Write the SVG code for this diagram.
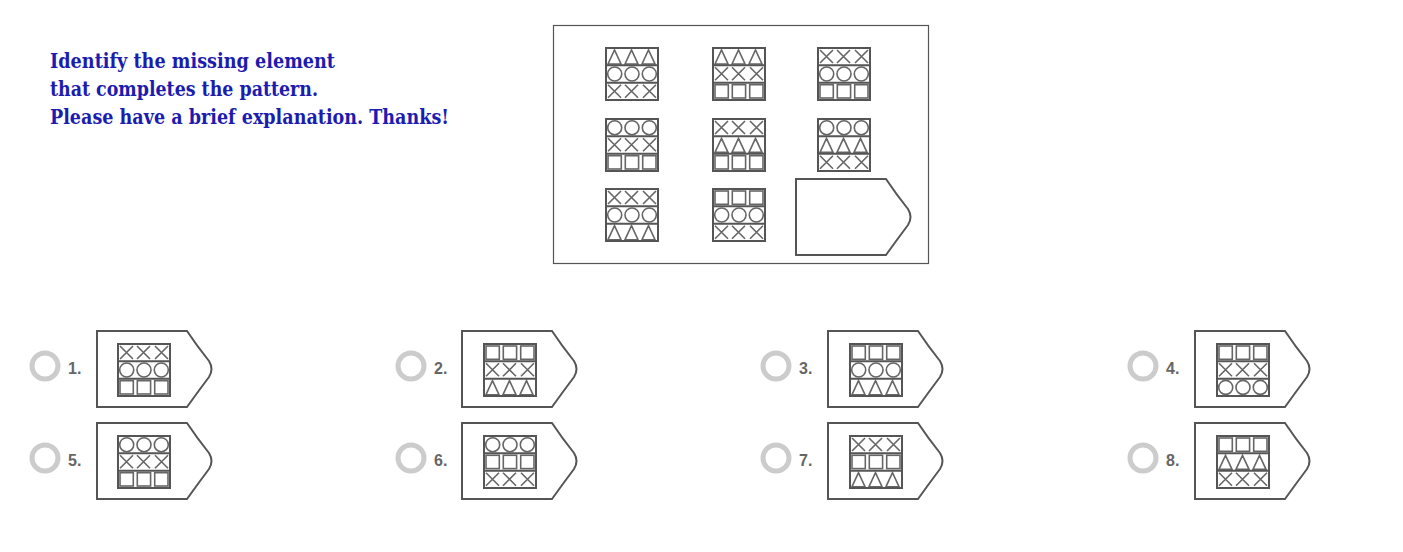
<svg xmlns="http://www.w3.org/2000/svg" xmlns:xlink="http://www.w3.org/1999/xlink" width="1403" height="552" viewBox="0 0 1403 552">
<style>
.s{fill:none;stroke:#666;stroke-width:1.6}
.b{fill:none;stroke:#555;stroke-width:2}
.tag{fill:#fff;stroke:#555;stroke-width:2}
.rad{fill:none;stroke:#ccc;stroke-width:5}
.num{font-family:"Liberation Sans",Arial,sans-serif;font-weight:bold;font-size:16px;fill:#666}
.q{font-family:"DejaVu Serif","Liberation Serif",serif;font-weight:bold;font-size:20px;fill:#1c1cb0}
</style>
<defs>
<g id="T" class="s"><path d="M2,16 L8.5,2 L15,16 Z M19,16 L25.5,2 L32,16 Z M36,16 L42.5,2 L49,16 Z"/></g>
<g id="O" class="s"><circle cx="8.7" cy="8.7" r="7"/><circle cx="26" cy="8.7" r="7"/><circle cx="43.3" cy="8.7" r="7"/></g>
<g id="X" class="s"><path d="M2,2 L15,15 M15,2 L2,15 M19,2 L32,15 M32,2 L19,15 M37,2 L50,15 M50,2 L37,15"/></g>
<g id="S" class="s"><rect x="2" y="2" width="13.3" height="13.3"/><rect x="19.3" y="2" width="13.3" height="13.3"/><rect x="36.7" y="2" width="13.3" height="13.3"/></g>
<rect id="F" class="b" x="0" y="0" width="52" height="52"/>
<path id="R" class="b" d="M0,17.3 H52 M0,34.7 H52"/>
<path id="tg" class="tag" d="M0,0 H90 Q100,15 112,30 Q117,38 112,46 Q100,62 90,76 H0 Z"/>
</defs>
<text class="q" x="50" y="68" textLength="285" lengthAdjust="spacingAndGlyphs">Identify the missing element</text>
<text class="q" x="50" y="96" textLength="268" lengthAdjust="spacingAndGlyphs">that completes the pattern.</text>
<text class="q" x="50" y="124" textLength="399" lengthAdjust="spacingAndGlyphs">Please have a brief explanation. Thanks!</text>
<g id="matrix">
<rect x="553.5" y="25.5" width="375" height="238" fill="#fff" stroke="#555" stroke-width="1.2"/>
<g transform="translate(606,48)"><use href="#T"/><use href="#O" y="17.3"/><use href="#X" y="34.7"/><use href="#R"/><use href="#F"/></g>
<g transform="translate(713,48)"><use href="#T"/><use href="#X" y="17.3"/><use href="#S" y="34.7"/><use href="#R"/><use href="#F"/></g>
<g transform="translate(818,48)"><use href="#X"/><use href="#O" y="17.3"/><use href="#S" y="34.7"/><use href="#R"/><use href="#F"/></g>
<g transform="translate(606,119)"><use href="#O"/><use href="#X" y="17.3"/><use href="#S" y="34.7"/><use href="#R"/><use href="#F"/></g>
<g transform="translate(713,119)"><use href="#X"/><use href="#T" y="17.3"/><use href="#S" y="34.7"/><use href="#R"/><use href="#F"/></g>
<g transform="translate(818,119)"><use href="#O"/><use href="#T" y="17.3"/><use href="#X" y="34.7"/><use href="#R"/><use href="#F"/></g>
<g transform="translate(606,189)"><use href="#X"/><use href="#O" y="17.3"/><use href="#T" y="34.7"/><use href="#R"/><use href="#F"/></g>
<g transform="translate(713,189)"><use href="#S"/><use href="#O" y="17.3"/><use href="#X" y="34.7"/><use href="#R"/><use href="#F"/></g>
<use href="#tg" x="796" y="179"/>
</g>
<g id="opt1"><circle class="rad" cx="45" cy="366" r="13"/><text class="num" x="68" y="374">1.</text><use href="#tg" x="97" y="331"/><g transform="translate(118,344)"><use href="#X"/><use href="#O" y="17.3"/><use href="#S" y="34.7"/><use href="#R"/><use href="#F"/></g></g>
<g id="opt2"><circle class="rad" cx="411" cy="366" r="13"/><text class="num" x="434" y="374">2.</text><use href="#tg" x="462" y="331"/><g transform="translate(484,344)"><use href="#S"/><use href="#X" y="17.3"/><use href="#T" y="34.7"/><use href="#R"/><use href="#F"/></g></g>
<g id="opt3"><circle class="rad" cx="776" cy="366" r="13"/><text class="num" x="799" y="374">3.</text><use href="#tg" x="828" y="331"/><g transform="translate(850,344)"><use href="#S"/><use href="#O" y="17.3"/><use href="#T" y="34.7"/><use href="#R"/><use href="#F"/></g></g>
<g id="opt4"><circle class="rad" cx="1143" cy="366" r="13"/><text class="num" x="1166" y="374">4.</text><use href="#tg" x="1195" y="331"/><g transform="translate(1217,344)"><use href="#S"/><use href="#X" y="17.3"/><use href="#O" y="34.7"/><use href="#R"/><use href="#F"/></g></g>
<g id="opt5"><circle class="rad" cx="45" cy="458" r="13"/><text class="num" x="68" y="466">5.</text><use href="#tg" x="97" y="423"/><g transform="translate(118,436)"><use href="#O"/><use href="#X" y="17.3"/><use href="#S" y="34.7"/><use href="#R"/><use href="#F"/></g></g>
<g id="opt6"><circle class="rad" cx="411" cy="458" r="13"/><text class="num" x="434" y="466">6.</text><use href="#tg" x="462" y="423"/><g transform="translate(484,436)"><use href="#O"/><use href="#S" y="17.3"/><use href="#X" y="34.7"/><use href="#R"/><use href="#F"/></g></g>
<g id="opt7"><circle class="rad" cx="776" cy="458" r="13"/><text class="num" x="799" y="466">7.</text><use href="#tg" x="828" y="423"/><g transform="translate(850,436)"><use href="#X"/><use href="#S" y="17.3"/><use href="#T" y="34.7"/><use href="#R"/><use href="#F"/></g></g>
<g id="opt8"><circle class="rad" cx="1143" cy="458" r="13"/><text class="num" x="1166" y="466">8.</text><use href="#tg" x="1195" y="423"/><g transform="translate(1217,436)"><use href="#S"/><use href="#T" y="17.3"/><use href="#X" y="34.7"/><use href="#R"/><use href="#F"/></g></g>
</svg>
